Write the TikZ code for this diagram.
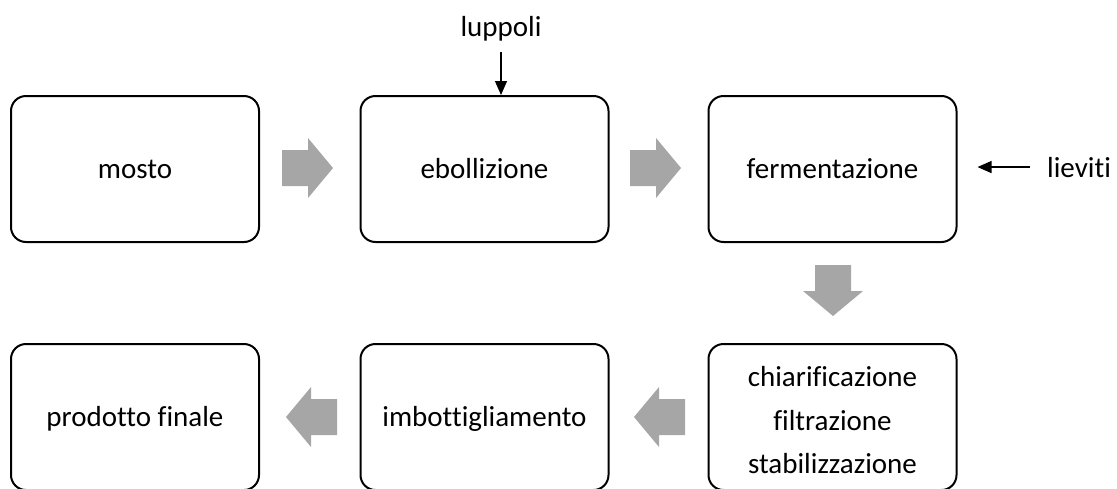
\documentclass[tikz,border=0pt]{standalone}
\usepackage{fontspec}
\setmainfont{Carlito}[Ligatures=NoCommon]
\usetikzlibrary{arrows.meta}
\definecolor{arrgray}{HTML}{A6A6A6}
\begin{document}
\begin{tikzpicture}[x=1pt,y=-1pt,
  stage/.style={draw, line width=2pt, rounded corners=15pt, minimum width=248pt, minimum height=146pt, inner sep=0pt, font=\fontsize{29pt}{43.5pt}\selectfont, align=center},
  oneline/.style={text height=24.6pt, text depth=6.6pt},
  lbl/.style={font=\fontsize{29pt}{35pt}\selectfont, inner sep=3pt},
  conn/.style={line width=1.2pt, -{Triangle[length=14pt,width=12pt]}},
  blockarr/.pic={\fill[arrgray] (0,-18) -- (26,-18) -- (26,-30) -- (51,0) -- (26,30) -- (26,18) -- (0,18) -- cycle;}]
\useasboundingbox (0,0) rectangle (1117,488);
\node[stage, oneline] (mosto) at (135,169) {mosto};
\node[stage, oneline] (ebol) at (484.5,169) {ebollizione};
\node[stage, oneline] (ferm) at (832.5,169) {fermentazione};
\node[stage] (chiar) at (832.5,417) {\rule{0pt}{27pt}chiarificazione\\filtrazione\\stabilizzazione};
\node[stage, oneline] (imbo) at (484.5,417) {imbottigliamento};
\node[stage, oneline] (prod) at (135,417) {prodotto finale};
\pic at (282,168) {blockarr};
\pic at (630,168) {blockarr};
\pic[rotate=-90] at (833,265) {blockarr};
\pic[rotate=180] at (685,417) {blockarr};
\pic[rotate=180] at (337,417) {blockarr};
\node[lbl, anchor=base] (luppoli) at (501,36) {luppoli};
\draw[conn, shorten <=8pt] (luppoli) -- (luppoli |- ebol.north);
\node[lbl, anchor=base west] (lieviti) at (1044,177) {lieviti};
\draw[conn, shorten <=14pt, shorten >=20pt] (lieviti.west) -- (lieviti.west -| ferm.east);
\end{tikzpicture}
\end{document}
